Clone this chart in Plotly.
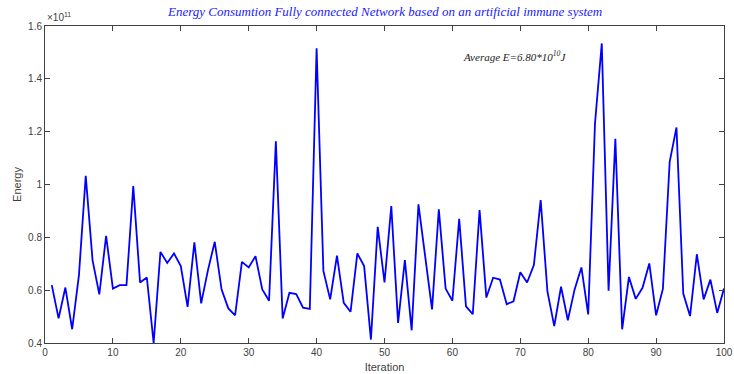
import plotly.graph_objects as go

iterations = list(range(1, 101))
energy_e11 = [
    0.619, 0.493, 0.610, 0.452, 0.657, 1.033, 0.714, 0.584, 0.806, 0.606,
    0.619, 0.619, 0.994, 0.629, 0.648, 0.400, 0.745, 0.703, 0.739, 0.691,
    0.537, 0.781, 0.550, 0.676, 0.783, 0.603, 0.531, 0.505, 0.707, 0.686,
    0.729, 0.603, 0.560, 1.164, 0.493, 0.590, 0.585, 0.534, 0.529, 1.516,
    0.673, 0.565, 0.731, 0.552, 0.518, 0.739, 0.691, 0.413, 0.840, 0.629,
    0.918, 0.476, 0.714, 0.448, 0.925, 0.720, 0.527, 0.906, 0.606, 0.560,
    0.870, 0.539, 0.509, 0.903, 0.572, 0.647, 0.640, 0.547, 0.558, 0.668,
    0.629, 0.695, 0.941, 0.594, 0.464, 0.613, 0.486, 0.603, 0.686, 0.508,
    1.231, 1.534, 0.598, 1.173, 0.452, 0.650, 0.567, 0.609, 0.701, 0.505,
    0.605, 1.086, 1.216, 0.587, 0.502, 0.736, 0.565, 0.640, 0.514, 0.606,
]
scale = 1e11
y_tick_vals = [0.4, 0.6, 0.8, 1.0, 1.2, 1.4, 1.6]
y_tick_text = ["0.4", "0.6", "0.8", "1", "1.2", "1.4", "1.6"]
x_tick_vals = [0, 10, 20, 30, 40, 50, 60, 70, 80, 90, 100]

title_text = "Energy Consumtion Fully connected Network based on an artificial immune system"
avg_text = "Average E=6.80*10<sup>10</sup>J"

fig = go.Figure()
fig.add_trace(go.Scatter(
    x=iterations, y=[v * scale for v in energy_e11], mode="lines",
    line=dict(color="#0000ff", width=1.8), showlegend=False,
))

axis_common = dict(
    showgrid=False, zeroline=False, showline=True, linecolor="#404040", linewidth=1,
    mirror="ticks", ticks="inside", ticklen=5, tickcolor="#404040", automargin=False,
    tickfont=dict(family="Liberation Sans, Arial", size=10, color="#404040"),
)

fig.update_layout(
    width=734, height=374,
    margin=dict(l=45, r=10, t=26, b=31),
    paper_bgcolor="white", plot_bgcolor="white",
    xaxis=dict(range=[0, 100], tickvals=x_tick_vals,
               title=dict(text="Iteration", font=dict(family="Liberation Sans, Arial", size=11, color="#404040"), standoff=6),
               **axis_common),
    yaxis=dict(range=[0.4 * scale, 1.6 * scale], tickvals=[v * scale for v in y_tick_vals], ticktext=y_tick_text,
               title=dict(text="Energy", font=dict(family="Liberation Sans, Arial", size=11, color="#404040"), standoff=4),
               **axis_common),
    annotations=[
        dict(text=title_text, xref="paper", yref="paper", x=0.5, y=1.0, yshift=15,
             showarrow=False, xanchor="center", yanchor="middle",
             font=dict(family="Liberation Serif, DejaVu Serif, serif", size=13, color="#1a1aff", style="italic")),
        dict(text="×10<sup>11</sup>", xref="paper", yref="paper", x=0, y=1.0, yshift=9,
             showarrow=False, xanchor="left", yanchor="middle",
             font=dict(family="Liberation Sans, Arial", size=10, color="#404040")),
        dict(text=avg_text, xref="paper", yref="paper", x=0.612, y=0.905,
             showarrow=False, xanchor="left", yanchor="middle",
             font=dict(family="Liberation Serif, DejaVu Serif, serif", size=11, color="#222222", style="italic")),
    ],
)

fig.write_html("out.html", post_script="document.body.style.margin='0';",
               config={"displayModeBar": False})
